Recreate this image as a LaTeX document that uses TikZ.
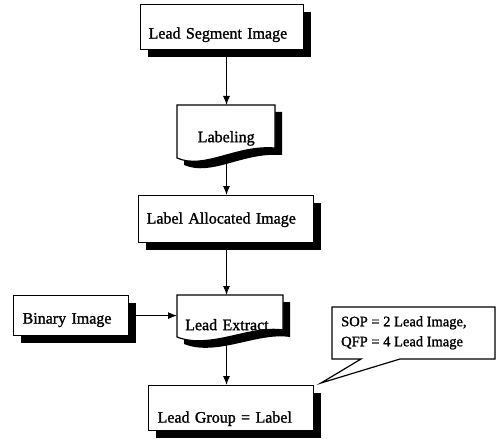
\documentclass[tikz,border=0pt]{standalone}
\usepackage{fontspec}
\setmainfont{Liberation Serif}[FakeBold=1.3]
\usetikzlibrary{shadows,arrows.meta}
\begin{document}
\begin{tikzpicture}[x=1pt,y=-1pt,
  base/.style={font=\fontsize{16}{19}\selectfont, inner xsep=8pt, inner ysep=0pt, align=left, anchor=north west},
  sbox/.style={base, draw, line width=1.2pt, fill=white,
    drop shadow={shadow xshift=7pt, shadow yshift=-7pt, opacity=1, fill=black}},
  outline/.style={draw, line width=1.2pt, fill=white},
  shade/.style={fill=black},
  arr/.style={-{Latex[length=9pt,width=7pt]}, line width=1pt},
]
\useasboundingbox (0,0) rectangle (502,438);
\coordinate (spine) at (226.5,0);

% document shapes (drawn first, text nodes on top)
\fill[shade, shift={(7,7)}] (177,105) -- (275,105) -- (275,148) .. controls (235,145) and (205,170) .. (177,158) -- cycle;
\path[outline] (177,105) -- (275,105) -- (275,148) .. controls (235,145) and (205,170) .. (177,158) -- cycle;
\fill[shade, shift={(7,7)}] (177,295) -- (283,295) -- (283,330) .. controls (250,325) and (210,350) .. (177,337) -- cycle;
\path[outline] (177,295) -- (283,295) -- (283,330) .. controls (250,325) and (210,350) .. (177,337) -- cycle;

% callout outline
\path[outline] (332,307) -- (495,307) -- (495,359) -- (400,359) -- (321,383) -- (361,359) -- (332,359) -- cycle;

% nodes
\node[sbox, text width=147pt, text height=34pt, text depth=11pt] (seg) at (140,4) {Lead Segment Image};
\node[base, text width=82pt, align=center, text height=37pt, text depth=16pt] (lab) at (177,105) {Labeling};
\node[sbox, text width=159pt, text height=28pt, text depth=19pt] (lal) at (138,195) {Label Allocated Image};
\node[sbox, inner xsep=9pt, text width=97pt, text height=28pt, text depth=12pt] (bin) at (13,295) {Binary Image};
\node[base, text width=90pt, text height=35pt, text depth=7pt] (ext) at (177,295) {Lead Extract};
\node[sbox, inner xsep=9pt, text width=147pt, text height=37pt, text depth=8pt] (grp) at (148,385) {Lead Group = Label};
\node[base, font=\fontsize{14.5}{20}\selectfont, inner xsep=9pt, inner ysep=0pt] (note) at (332,316) {SOP = 2 Lead Image,\\QFP = 4 Lead Image};

% connectors
\draw[arr] (spine |- seg.south) -- (spine |- lab.north);
\draw[arr] (spine |- lab.south) -- (spine |- lal.north);
\draw[arr] (spine |- lal.south) -- (spine |- ext.north);
\draw[arr] (spine |- ext.south) -- (spine |- grp.north);
\draw[arr] (bin.east) -- (bin.east -| ext.west);
\end{tikzpicture}
\end{document}
